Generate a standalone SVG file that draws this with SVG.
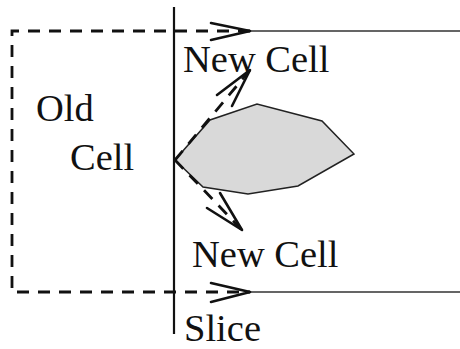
<svg xmlns="http://www.w3.org/2000/svg" width="460" height="349" viewBox="0 0 460 349">
<style>
.t{font-family:"Liberation Serif","Times New Roman",serif;font-size:38.5px;fill:#111}
.d{fill:none;stroke:#111;stroke-width:2.8;stroke-dasharray:12 9}
.s{fill:none;stroke:#111;stroke-width:2.2}
.h{fill:none;stroke:#111;stroke-width:2.6;stroke-linecap:round;stroke-linejoin:round}
.r{fill:none;stroke:#333;stroke-width:1.5}
</style>
<g id="region">
<polygon id="obstacle" points="175,160 210,120 257,104 322,121 354,154 298,186 248,194 203,187" fill="#d9d9d9" stroke="#222" stroke-width="1.5"/>
</g>
<g id="connectors">
<path class="d" d="M250,31 H12 V292 H250"/>
<path class="r" d="M250,31 H460 M250,292 H460"/>
<path class="s" d="M174,7 V334"/>
<path class="h" d="M211,23 L250,31 L211,40"/>
<path class="h" d="M211,283 L250,292 L211,302"/>
<path class="d" d="M175,160 L250,70"/>
<path class="h" d="M217,95 L250,70 L232,106"/>
<path class="d" d="M175,160 L242,230"/>
<path class="h" d="M207,208 L242,230 L220,193"/>
</g>
<g id="old-cell"><text class="t" x="36" y="121">Old</text><text class="t" x="70" y="170">Cell</text></g>
<g id="new-cell-top"><text class="t" x="183" y="72">New Cell</text></g>
<g id="new-cell-bottom"><text class="t" x="192" y="267">New Cell</text></g>
<g id="slice"><text class="t" x="184" y="341">Slice</text></g>
</svg>
